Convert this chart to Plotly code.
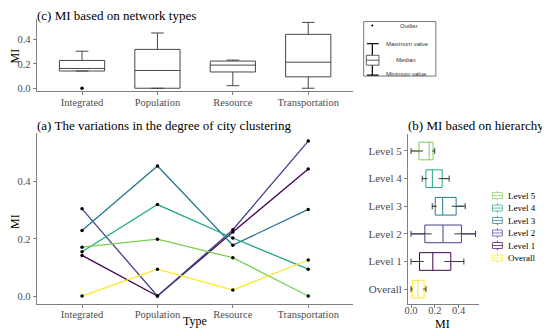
import numpy as np
import plotly.graph_objects as go

# ---------------- data ----------------
types = ["Integrated", "Population", "Resource", "Transportation"]
levels = ["Level 1", "Level 2", "Level 3", "Level 4", "Level 5", "Overall"]
level1 = [0.142, 0.000, 0.224, 0.444]
level2 = [0.305, 0.000, 0.232, 0.542]
level3 = [0.229, 0.455, 0.178, 0.303]
level4 = [0.155, 0.320, 0.203, 0.094]
level5 = [0.171, 0.199, 0.134, 0.000]
overall = [0.000, 0.094, 0.021, 0.126]
series = [level1, level2, level3, level4, level5, overall]
colors = ["#440154", "#414487", "#2A788E", "#22A884", "#7AD151", "#FDE725"]
hier_order = ["Overall", "Level 1", "Level 2", "Level 3", "Level 4", "Level 5"]  # bottom -> top
y_ticks = [0.0, 0.2, 0.4]

# page body has an 8px default margin -> figure sits at (8, 8)
OFF = 8
W, H = 550 - OFF, 335 - OFF
SERIF = "Liberation Serif, Times New Roman, serif"
SANS = "Liberation Sans, Arial, sans-serif"


def px(x):
    return (x - OFF) / W


def py(y):
    return 1 - (y - OFF) / H


fig = go.Figure()

# ---------------- (c) boxplots by network type ----------------
xc, yc = [], []
for vals in series:
    xc += types
    yc += vals
fig.add_trace(go.Box(
    x=xc, y=yc, xaxis="x", yaxis="y",
    quartilemethod="linear", boxpoints="outliers",
    line=dict(color="#333333", width=0.9), fillcolor="white",
    marker=dict(color="black", size=3.5),
    width=0.6, whiskerwidth=0.28, showlegend=False,
))

# ---------------- (a) lines ----------------
for name, vals, col in zip(levels, series, colors):
    fig.add_trace(go.Scatter(
        x=types, y=vals, xaxis="x2", yaxis="y2", mode="lines+markers",
        line=dict(color=col, width=1.3),
        marker=dict(color="black", size=3.5),
        name=name, showlegend=False,
    ))

# ---------------- (b) horizontal boxplots by hierarchy ----------------
cap = 0.11
for name, vals, col in zip(levels, series, colors):
    pos = hier_order.index(name)
    fig.add_trace(go.Box(
        x=vals, y0=pos, orientation="h", xaxis="x3", yaxis="y3",
        quartilemethod="linear", boxpoints=False,
        line=dict(color=col, width=1.0), fillcolor="rgba(255,255,255,0)",
        width=0.64, whiskerwidth=0, name=name, showlegend=False,
    ))
    v = np.array(vals)
    q1, q3 = np.percentile(v, [25, 75])
    iqr = q3 - q1
    lo = v[v >= q1 - 1.5 * iqr].min()
    hi = v[v <= q3 + 1.5 * iqr].max()
    fig.add_trace(go.Scatter(
        x=[lo, q1, None, q3, hi, None, lo, lo, None, hi, hi],
        y=[pos, pos, None, pos, pos, None, pos - cap, pos + cap, None, pos - cap, pos + cap],
        xaxis="x3", yaxis="y3", mode="lines",
        line=dict(color="#3a3a3a", width=1.0), showlegend=False, hoverinfo="skip",
    ))

axis_common = dict(
    showline=True, linecolor="#7F7F7F", linewidth=1.2, mirror=False,
    ticks="outside", ticklen=3, tickcolor="#7F7F7F", tickwidth=1,
    showgrid=False, zeroline=False,
    tickfont=dict(family=SERIF, size=10.5, color="#4D4D4D"),
)

fig.update_layout(
    width=W, height=H, autosize=False,
    margin=dict(l=0, r=0, t=0, b=0),
    paper_bgcolor="white", plot_bgcolor="white",
    xaxis=dict(domain=[px(33), px(352)], anchor="y", type="category",
               categoryorder="array", categoryarray=types, range=[-0.6, 3.6],
               ticklabelstandoff=-2, **axis_common),
    yaxis=dict(domain=[py(92), py(19)], anchor="x", range=[-0.0245, 0.571],
               tickvals=y_ticks, tickformat=".1f", **axis_common),
    xaxis2=dict(domain=[px(33), px(352)], anchor="y2", type="category",
                categoryorder="array", categoryarray=types, range=[-0.6, 3.6],
                ticklabelstandoff=-2, **axis_common),
    yaxis2=dict(domain=[py(306.5), py(134.5)], anchor="x2", range=[-0.027, 0.569],
                tickvals=y_ticks, tickformat=".1f", **axis_common),
    xaxis3=dict(domain=[px(407), px(478)], anchor="y3", range=[-0.025, 0.567],
                tickvals=y_ticks, tickformat=".1f", ticklabelstandoff=-6, **axis_common),
    yaxis3=dict(domain=[py(306.5), py(135.6)], anchor="x3", range=[-0.53, 5.6],
                tickvals=list(range(len(hier_order))), ticktext=hier_order, **axis_common),
)
fig.update_layout(yaxis3_tickfont=dict(family=SERIF, size=11, color="#4D4D4D"))

ann = []


def text(s, x, y, size, xanchor="center", color="black", family=SERIF, angle=0):
    ann.append(dict(text=s, x=px(x), y=py(y), xref="paper", yref="paper",
                    xanchor=xanchor, yanchor="middle", showarrow=False, borderpad=0,
                    textangle=angle, font=dict(family=family, size=size, color=color)))


# titles
text("(c) MI based on network types", 32, 15.6, 13, "left")
text("(a) The variations in the degree of city clustering", 32, 127, 13, "left")
text("(b) MI based on hierarchy", 406, 127, 13, "left")
# axis titles
text("MI", 11, 56, 12, angle=-90)
text("MI", 11, 223, 12, angle=-90)
text("Type", 192, 324, 12)
text("MI", 442, 326.5, 12)

shapes = []

# ---- manual legend for (b) ----
leg_names = list(reversed(hier_order))  # Level 5 ... Overall
leg_colors = [colors[levels.index(n)] for n in leg_names]
for k, (n, col) in enumerate(zip(leg_names, leg_colors)):
    yc_ = 197.3 + k * 12.6
    shapes.append(dict(type="rect", xref="paper", yref="paper",
                       x0=px(492), x1=px(502), y0=py(yc_ + 3), y1=py(yc_ - 3),
                       line=dict(color=col, width=1), fillcolor="white", opacity=0.7))
    shapes.append(dict(type="line", xref="paper", yref="paper",
                       x0=px(492), x1=px(502), y0=py(yc_), y1=py(yc_),
                       line=dict(color=col, width=1), opacity=0.7))
    for (a, b) in [(yc_ - 5, yc_ - 3), (yc_ + 3, yc_ + 5)]:
        shapes.append(dict(type="line", xref="paper", yref="paper",
                           x0=px(497), x1=px(497), y0=py(a), y1=py(b),
                           line=dict(color=col, width=1), opacity=0.7))
    text(n, 507, yc_, 9, "left")

# ---- explanatory boxplot key (top right) ----
dk = "#333333"
shapes.append(dict(type="rect", xref="paper", yref="paper",
                   x0=px(362.3), x1=px(435), y0=py(76.7), y1=py(21.7),
                   line=dict(color="#555555", width=0.8)))
shapes.append(dict(type="circle", xref="paper", yref="paper",
                   x0=px(370.2), x1=px(371.8), y0=py(26.5), y1=py(24.9),
                   line=dict(color="black", width=0.5), fillcolor="black"))
shapes.append(dict(type="line", xref="paper", yref="paper",
                   x0=px(371), x1=px(371), y0=py(75.7), y1=py(44),
                   line=dict(color="black", width=1.2)))
for yy in (44, 75.7):
    shapes.append(dict(type="line", xref="paper", yref="paper",
                       x0=px(365.5), x1=px(377.3), y0=py(yy), y1=py(yy),
                       line=dict(color="black", width=1.2)))
shapes.append(dict(type="rect", xref="paper", yref="paper",
                   x0=px(365), x1=px(377.7), y0=py(65.7), y1=py(55.7),
                   line=dict(color=dk, width=0.8), fillcolor="white"))
shapes.append(dict(type="line", xref="paper", yref="paper",
                   x0=px(365), x1=px(377.7), y0=py(60.7), y1=py(60.7),
                   line=dict(color=dk, width=0.8)))
text("Outlier", 408, 26, 6, color="#333333", family=SANS)
text("Maximum value", 406.7, 44.5, 6, color="#333333", family=SANS)
text("Median", 405, 60.5, 6, color="#333333", family=SANS)
text("Minimum value", 405, 75, 6, color="#333333", family=SANS)

fig.update_layout(annotations=ann, shapes=shapes)
fig.write_html("out.html")
